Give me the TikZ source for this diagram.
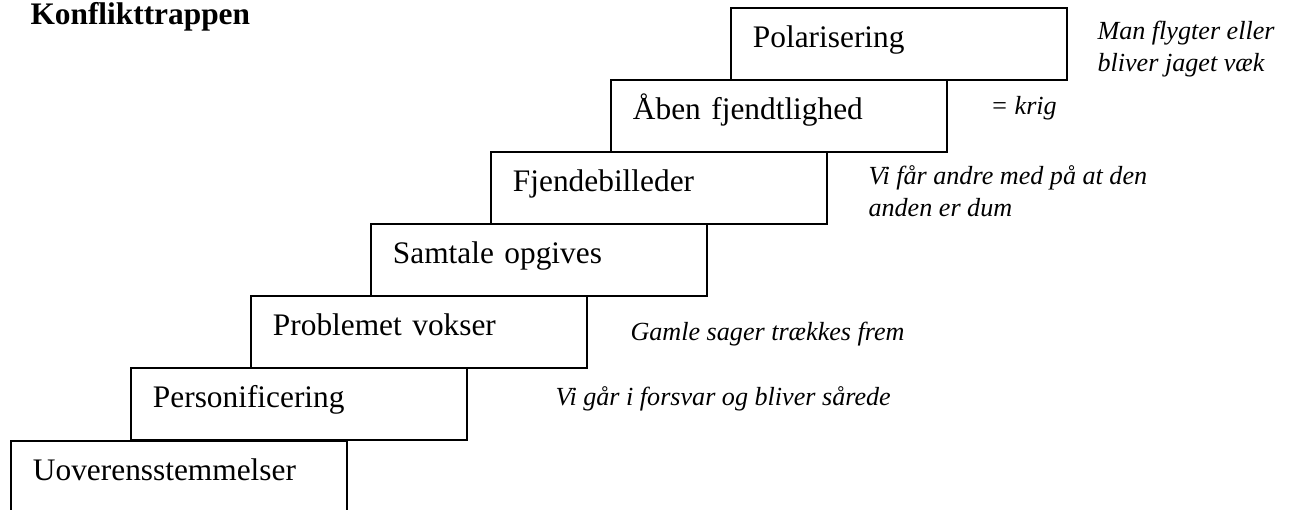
\documentclass[tikz,border=0pt]{standalone}
\usepackage{fontspec}
\setmainfont{Liberation Serif}[
  ItalicFont={Liberation Serif Italic},
  BoldFont={Liberation Serif Bold}]
\usetikzlibrary{calc}

\begin{document}
\begin{tikzpicture}[
    x=0.3827pt,
    y=-0.3827pt,
    trin/.style={draw, line width=0.75pt, anchor=north west,
      inner ysep=0pt, inner xsep=8.42pt, text width=111.75pt, align=left,
      text height=15.31pt, text depth=12.25pt,
      font=\fontsize{12}{14}\selectfont},
    note/.style={anchor=base west, inner sep=0pt,
      font=\fontsize{10}{12}\selectfont\itshape}
  ]

  % --- Frame (page size of the picture) ---
  \useasboundingbox (0,0) rectangle (1293,510);
  \clip (0,0) rectangle (1293,510);

  % --- Title ---
  \node[anchor=base west, inner sep=0pt, font=\fontsize{12}{14}\selectfont\bfseries]
    (title) at (30,25) {Konflikttrappen};

  % --- Steps of the stair (bottom to top) ---
  \node[trin] (uover)   at (10,440)  {Uoverensstemmelser};
  \node[trin] (person)  at (130,367) {Personificering};
  \node[trin] (problem) at (250,295) {Problemet vokser};
  \node[trin] (samtale) at (370,223) {Samtale opgives};
  \node[trin] (fjende)  at (490,151) {Fjendebilleder};
  \node[trin] (aaben)   at (610,79)  {Åben fjendtlighed};
  \node[trin] (polar)   at (730,7)   {Polarisering};

  % --- Notes beside the steps ---
  \node[note] (polarA) at (1097,40)  {Man flygter eller};
  \node[note] (polarB) at (1097,72)  {bliver jaget væk};
  \node[note] (krig)   at (990,115)  {= krig};
  \node[note] (fjendeA) at (868,184) {Vi får andre med på at den};
  \node[note] (fjendeB) at (868,216) {anden er dum};
  \node[note] (gamle)  at (630,340)  {Gamle sager trækkes frem};
  \node[note] (saar)   at (555,405)  {Vi går i forsvar og bliver sårede};

\end{tikzpicture}
\end{document}
